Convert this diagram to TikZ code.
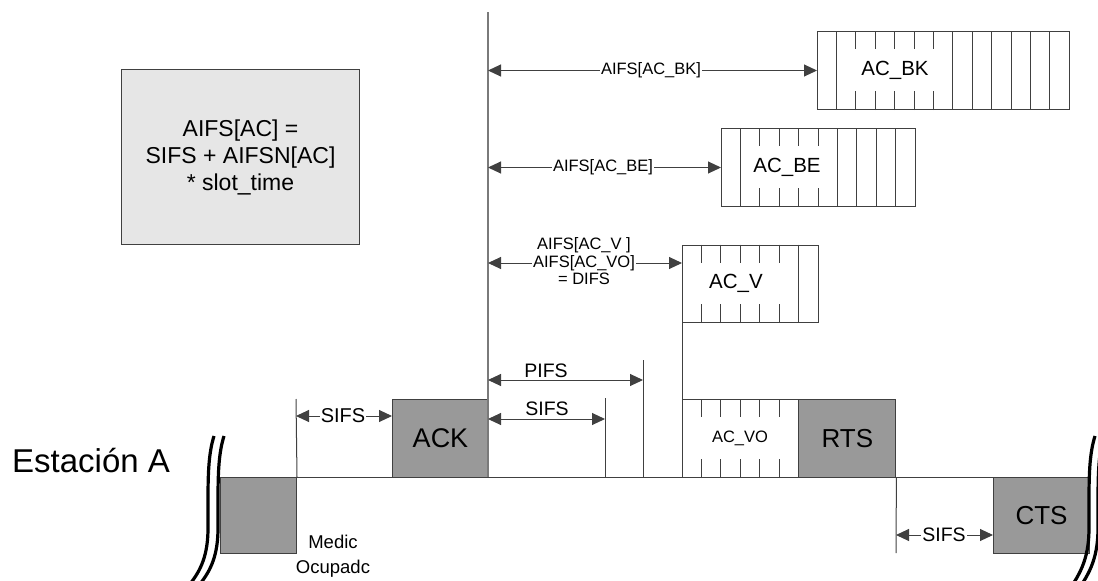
\documentclass[tikz,border=0pt]{standalone}
\usepackage{fontspec}
\setmainfont{Liberation Sans}
\usetikzlibrary{arrows.meta}
\definecolor{boxgray}{HTML}{999999}
\definecolor{notegray}{HTML}{E6E6E6}
\definecolor{lngray}{HTML}{404040}
\definecolor{maingray}{HTML}{7A7A7A}
\tikzset{
  ln/.style={draw=lngray, line width=1pt},
  mainln/.style={draw=maingray, line width=1.6pt},
  dbl/.style={{Triangle[length=13pt,width=12pt]}-{Triangle[length=13pt,width=12pt]}, draw=lngray, line width=1pt},
  gbox/.style={draw=lngray, line width=1pt, fill=boxgray, anchor=north west, inner sep=0pt},
  sbox/.style={draw=lngray, line width=1pt, fill=white, anchor=north west, inner sep=0pt},
  lbl/.style={fill=white, inner sep=1pt, font=\fontsize{16.5}{19}\selectfont},
  boxlbl/.style={inner sep=0pt, font=\fontsize{20.5}{24}\selectfont},
  squig/.style={draw=black, line width=3.2pt},
}
\begin{document}
\begin{tikzpicture}[x=1pt,y=-1pt]
\useasboundingbox (0,0) rectangle (1098,581);

% note box
\node[draw=lngray, line width=1pt, fill=notegray, anchor=north west, minimum width=238, minimum height=175,
      align=center, font=\fontsize{23}{27}\selectfont] (note) at (121,69)
      {AIFS[AC] =\\SIFS + AIFSN[AC]\\* slot\_time};

% main vertical line
\coordinate (mtop) at (488,12);
\coordinate (mbot) at (488,477);

% baseline
\coordinate (bl) at (220,477);
\coordinate (br) at (1089,477);
\draw[ln] (bl) -- (br);

% boxes
\node[gbox, minimum width=76, minimum height=76] (busy) at (220,477) {};
\node[gbox, minimum width=96, minimum height=78, font=\fontsize{27}{30}\selectfont] (ack) at (392,399) {ACK};
\node[sbox, minimum width=116.4, minimum height=78] (acvo) at (682,399) {};
\node[gbox, minimum width=97, minimum height=78, font=\fontsize{26}{30}\selectfont] (rts) at (798.4,399) {RTS};
\node[gbox, minimum width=96, minimum height=76, font=\fontsize{26}{30}\selectfont] (cts) at (993,477) {CTS};
\node[sbox, minimum width=135.8, minimum height=77.5] (acv) at (682,244.5) {};
\node[sbox, minimum width=194, minimum height=78] (acbe) at (721,128) {};
\node[sbox, minimum width=252.2, minimum height=78] (acbk) at (817,31) {};

% slot dividers
\foreach \b/\short/\full in {acbk/{2,3,4,5,6}/{1,7,8,9,10,11,12}, acbe/{2,3,4,5}/{1,6,7,8,9}, acv/{1,2,3,4,5}/{6}, acvo/{1,2,3,4,5}/{}}{
  \foreach \k in \short {
    \draw[ln] ([xshift=\k*19.4pt]\b.north west) -- ++(0,18);
    \draw[ln] ([xshift=\k*19.4pt]\b.south west) -- ++(0,-19);
  }
  \foreach \k in \full {
    \draw[ln] ([xshift=\k*19.4pt]\b.north west) -- ([xshift=\k*19.4pt]\b.south west);
  }
}

% labels inside the slot boxes
\node[boxlbl] (tbk) at (895,70) {AC\_BK};
\node[boxlbl] (tbe) at (787,167) {AC\_BE};
\node[boxlbl] (tv) at (736,283) {AC\_V};
\node[inner sep=0pt, font=\fontsize{16.5}{19}\selectfont] (tvo) at (740,438) {AC\_VO};

\draw[mainln] (mtop) -- (mbot);

% left edge line of AC_V / AC_VO
\draw[ln] (acv.south west) -- (acvo.north west);

% AIFS arrows
\draw[dbl] (mtop |- acbk.west) -- (acbk.west);
\node[lbl] (lbk) at (651,70) {AIFS[AC\_BK]};
\draw[dbl] (mtop |- acbe.west) -- (acbe.west);
\node[lbl] (lbe) at (603,167) {AIFS[AC\_BE]};
\coordinate (vR) at (682,263);
\draw[dbl] (mtop |- vR) -- (vR);
\node[lbl] (lvo) at (584,263) {AIFS[AC\_VO]};
\node[lbl, anchor=south] (lv) at (lvo.north) {AIFS[AC\_V ]};
\node[lbl, anchor=north] (ldifs) at (lvo.south) {= DIFS};

% PIFS
\coordinate (pifsT) at (643,360);
\coordinate (pifsA) at (643,380);
\coordinate (pifsB) at (643,477);
\draw[ln] (pifsT) -- (pifsB);
\draw[dbl] (mtop |- pifsA) -- (pifsA);
\node[anchor=base, inner sep=0pt, font=\fontsize{19.5}{22}\selectfont] (lpifs) at (546,377) {PIFS};

% SIFS (upper)
\coordinate (sifsT) at (605,398);
\coordinate (sifsA) at (605,419);
\coordinate (sifsB) at (605,477);
\draw[ln] (sifsT) -- (sifsB);
\draw[dbl] (mtop |- sifsA) -- (sifsA);
\node[anchor=base, inner sep=0pt, font=\fontsize{19.5}{22}\selectfont] (lsifs) at (547,415) {SIFS};

% SIFS (left)
\coordinate (lsT) at (296,399);
\coordinate (lsA) at (296,416);
\draw[ln] (lsT) -- (busy.north east);
\draw[dbl] (lsA) -- (ack.west |- lsA);
\node[lbl, font=\fontsize{20}{22}\selectfont] (lsifs2) at (343,416) {SIFS};

% SIFS (bottom)
\coordinate (bsB) at (896,553);
\coordinate (bsA) at (896,535);
\draw[ln] (rts.south east) -- (bsB);
\draw[dbl] (bsA) -- (cts.west |- bsA);
\node[lbl, font=\fontsize{19.5}{22}\selectfont] (bsifs) at (944,535) {SIFS};

% texts
\node[anchor=base west, inner sep=0pt, font=\fontsize{33}{38}\selectfont] (sta) at (12,472) {Estación A};
\node[align=center, inner sep=0pt, font=\fontsize{18.5}{25}\selectfont] (medio) at (333,556) {Medic\\Ocupadc};

% break squiggles
\draw[squig] (214,436) .. controls (209,452) and (208,470) .. (208,500) -- (208,528) .. controls (208,555) and (201,570) .. (190,584);
\draw[squig] (224,436) .. controls (219,452) and (218,470) .. (218,500) -- (218,528) .. controls (218,555) and (211,570) .. (200,584);
\draw[squig] (1095,436) .. controls (1090,452) and (1089,470) .. (1089,500) -- (1089,528) .. controls (1089,555) and (1082,570) .. (1073,584);
\draw[squig] (1104,436) .. controls (1099,452) and (1098,470) .. (1098,500) -- (1098,528) .. controls (1098,555) and (1091,570) .. (1082,584);
\end{tikzpicture}
\end{document}
